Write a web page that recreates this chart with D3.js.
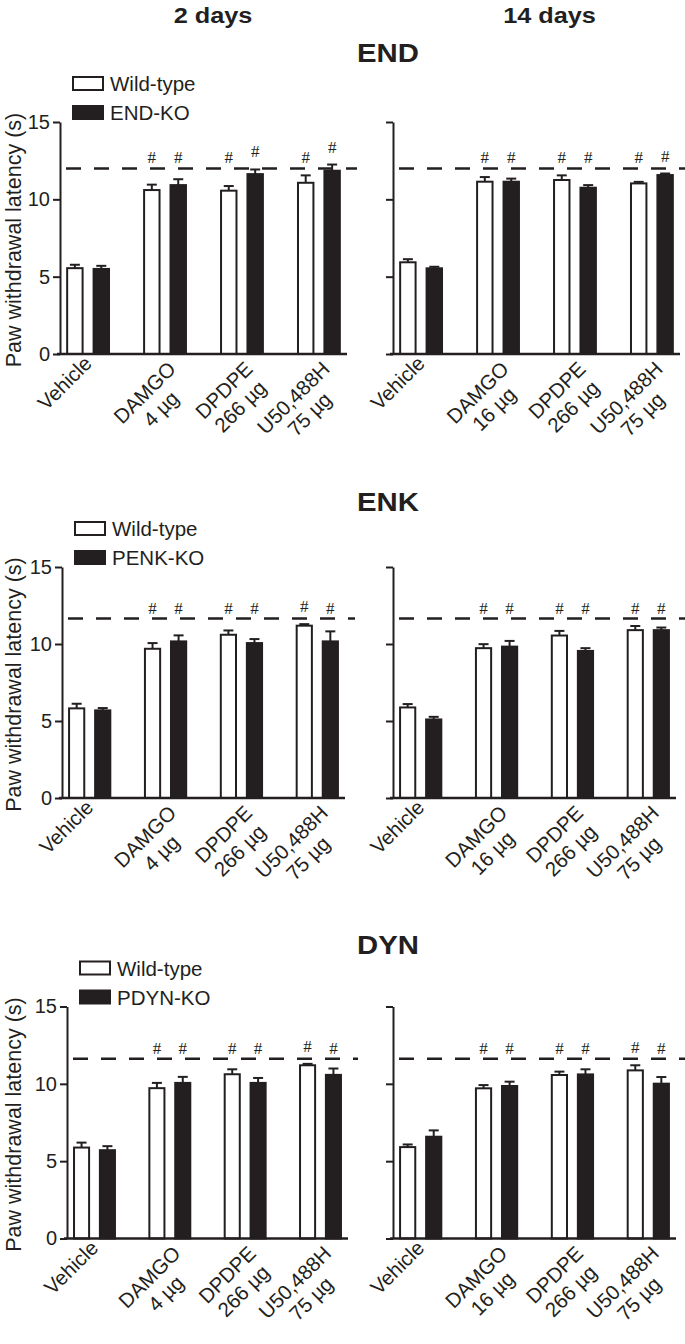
<!DOCTYPE html>
<html>
<head>
<meta charset="utf-8">
<script src="https://cdn.jsdelivr.net/npm/d3@7"></script>
<style>
  body { margin: 0; background: #fff; }
  svg { display: block; font-family: "Liberation Sans", Arial, Helvetica, sans-serif; }
</style>
</head>
<body>
<div id="chart"></div>
<script>
// categories / labels
const drugLabels2d = [['Vehicle'], ['DAMGO', '4 µg'], ['DPDPE', '266 µg'], ['U50,488H', '75 µg']];
const drugLabels14d = [['Vehicle'], ['DAMGO', '16 µg'], ['DPDPE', '266 µg'], ['U50,488H', '75 µg']];
const sigMarks = ['', '#', '#', '#'];
const yTicks = [0, 5, 10, 15];
const dayHeaders = ['2 days', '14 days'];
const rowNames = ['END', 'ENK', 'DYN'];
const koNames = ['END-KO', 'PENK-KO', 'PDYN-KO'];
const cutoffs = [12.0, 11.65, 11.62];

// END, 2 days
const endWt2d = [5.55, 10.6, 10.56, 11.07];
const endWt2dErr = [0.22, 0.35, 0.3, 0.48];
const endKo2d = [5.5, 10.92, 11.63, 11.85];
const endKo2dErr = [0.2, 0.38, 0.3, 0.4];
// END, 14 days
const endWt14d = [5.93, 11.14, 11.25, 11.03];
const endWt14dErr = [0.2, 0.3, 0.3, 0.1];
const endKo14d = [5.54, 11.14, 10.75, 11.57];
const endKo14dErr = [0.1, 0.2, 0.17, 0.1];
// ENK, 2 days
const enkWt2d = [5.82, 9.69, 10.6, 11.19];
const enkWt2dErr = [0.3, 0.37, 0.28, 0.1];
const enkKo2d = [5.69, 10.17, 10.06, 10.17];
const enkKo2dErr = [0.15, 0.39, 0.26, 0.65];
// ENK, 14 days
const enkWt14d = [5.88, 9.73, 10.55, 10.9];
const enkWt14dErr = [0.22, 0.26, 0.3, 0.27];
const enkKo14d = [5.1, 9.83, 9.55, 10.9];
const enkKo14dErr = [0.17, 0.37, 0.18, 0.17];
// DYN, 2 days
const dynWt2d = [5.88, 9.72, 10.62, 11.2];
const dynWt2dErr = [0.32, 0.34, 0.32, 0.09];
const dynKo2d = [5.71, 10.06, 10.06, 10.58];
const dynKo2dErr = [0.26, 0.39, 0.32, 0.41];
// DYN, 14 days
const dynWt14d = [5.91, 9.71, 10.57, 10.87];
const dynWt14dErr = [0.17, 0.21, 0.22, 0.33];
const dynKo14d = [6.58, 9.86, 10.61, 10.01];
const dynKo14dErr = [0.41, 0.28, 0.33, 0.43];

const ink = '#231f20';
const width = 685;
const height = 1344;

// page layout of the three rows (pixels)
const rowLayout = [
  { y0: 354, y15: 122, left: [60, 347], right: [393, 680], titleY: 62 },
  { y0: 798, y15: 567, left: [62, 345], right: [393, 676], titleY: 511 },
  { y0: 1238.5, y15: 1006.5, left: [67, 348], right: [393, 676], titleY: 954 }
];

const svg = d3.select('#chart')
  .append('svg')
  .attr('width', width)
  .attr('height', height);

// column headers
[213, 549.5].forEach((cx, i) => {
  svg.append('text')
    .attr('transform', `translate(${cx},23) scale(1.15,1)`)
    .attr('text-anchor', 'middle')
    .attr('font-size', '22px')
    .attr('font-weight', 'bold')
    .attr('fill', ink)
    .text(dayHeaders[i]);
});

function drawPanel(p) {
  const xGroup = d3.scaleBand()
    .domain(d3.range(p.wt.length))
    .range(p.xRange)
    .paddingInner(0.43)
    .paddingOuter(0.08);

  const xSub = d3.scaleBand()
    .domain(['wt', 'ko'])
    .range([0, xGroup.bandwidth()])
    .paddingInner(0.34);

  const y = d3.scaleLinear()
    .domain([0, 15])
    .range([p.y0, p.y15]);

  const x0 = p.xRange[0];
  const x1 = p.xRange[1];

  // cut-off line
  svg.append('line')
    .attr('x1', x0)
    .attr('x2', Math.min(x1 + 10, width))
    .attr('y1', y(p.cutoff))
    .attr('y2', y(p.cutoff))
    .attr('stroke', ink)
    .attr('stroke-width', 2.5)
    .attr('stroke-dasharray', '15,13')
    .attr('stroke-dashoffset', -6);

  const rows = d3.range(p.wt.length).flatMap(i => [
    { g: i, s: 'wt', v: p.wt[i], e: p.wtErr[i] },
    { g: i, s: 'ko', v: p.ko[i], e: p.koErr[i] }
  ]);
  const cx = d => xGroup(d.g) + xSub(d.s) + xSub.bandwidth() / 2;

  // error bars (upper only)
  svg.selectAll(null)
    .data(rows)
    .enter()
    .append('line')
    .attr('x1', cx)
    .attr('x2', cx)
    .attr('y1', d => y(d.v))
    .attr('y2', d => y(d.v + d.e))
    .attr('stroke', ink)
    .attr('stroke-width', 2);

  svg.selectAll(null)
    .data(rows)
    .enter()
    .append('line')
    .attr('x1', d => cx(d) - 5)
    .attr('x2', d => cx(d) + 5)
    .attr('y1', d => y(d.v + d.e))
    .attr('y2', d => y(d.v + d.e))
    .attr('stroke', ink)
    .attr('stroke-width', 2);

  // bars
  svg.selectAll(null)
    .data(rows)
    .enter()
    .append('rect')
    .attr('x', d => xGroup(d.g) + xSub(d.s) + 1)
    .attr('y', d => y(d.v))
    .attr('width', xSub.bandwidth() - 2)
    .attr('height', d => p.y0 - y(d.v))
    .attr('fill', d => (d.s === 'wt' ? '#fff' : ink))
    .attr('stroke', ink)
    .attr('stroke-width', 2);

  // significance marks
  svg.selectAll(null)
    .data(rows.filter(d => sigMarks[d.g]))
    .enter()
    .append('text')
    .attr('x', cx)
    .attr('y', d => Math.min(y(p.cutoff) - 5, y(d.v + d.e) - 12))
    .attr('text-anchor', 'middle')
    .attr('font-family', '"Liberation Serif", "Times New Roman", serif')
    .attr('font-size', '17px')
    .attr('fill', ink)
    .text(d => sigMarks[d.g]);

  // y axis
  const yAxis = svg.append('g')
    .attr('transform', `translate(${x0},0)`)
    .call(d3.axisLeft(y)
      .tickValues(yTicks)
      .tickSize(7)
      .tickSizeOuter(0)
      .tickPadding(3)
      .tickFormat(p.showY ? d3.format('d') : () => ''));
  yAxis.attr('font-family', null).attr('font-size', '20px');
  yAxis.select('.domain').attr('stroke', ink).attr('stroke-width', 2);
  yAxis.selectAll('.tick line').attr('stroke', ink).attr('stroke-width', 2);
  yAxis.selectAll('.tick text').attr('fill', ink);

  // x baseline
  svg.append('line')
    .attr('x1', x0 - 3)
    .attr('x2', x1)
    .attr('y1', p.y0)
    .attr('y2', p.y0)
    .attr('stroke', ink)
    .attr('stroke-width', 2.5);

  // rotated category labels
  p.labels.forEach((lines, i) => {
    const gx = xGroup(i) + xGroup.bandwidth() / 2;
    const lg = svg.append('g')
      .attr('transform', `translate(${gx},${p.y0}) rotate(-45)`);
    const texts = lines.map(t => lg.append('text')
      .attr('font-size', '20.5px')
      .attr('fill', ink)
      .attr('text-anchor', 'middle')
      .text(t));
    const blockW = d3.max(texts, t => t.node().getComputedTextLength());
    const u = lines.length > 1 ? -3 : -4;
    const v = lines.length > 1 ? 20 : 11;
    texts.forEach((t, j) => {
      t.attr('x', u - blockW / 2).attr('y', v + j * 23);
    });
  });

  if (p.showY) {
    svg.append('text')
      .attr('transform', `translate(21,${(p.y0 + p.y15) / 2 + 2}) rotate(-90)`)
      .attr('text-anchor', 'middle')
      .attr('font-size', '21.5px')
      .attr('fill', ink)
      .text('Paw withdrawal latency (s)');

    // legend
    const lx = x0 + 12;
    const ly = p.y15 - 46;
    const legend = svg.append('g').attr('transform', `translate(${lx},${ly})`);
    [['Wild-type', '#fff'], [p.koName, ink]].forEach((it, k) => {
      legend.append('rect')
        .attr('x', 1)
        .attr('y', k * 29 + 1)
        .attr('width', 30)
        .attr('height', 13)
        .attr('fill', it[1])
        .attr('stroke', ink)
        .attr('stroke-width', 2);
      legend.append('text')
        .attr('x', 38)
        .attr('y', k * 29 + 15)
        .attr('font-size', '20.5px')
        .attr('fill', ink)
        .text(it[0]);
    });
  }
}

const panelData = [
  [[endWt2d, endWt2dErr, endKo2d, endKo2dErr], [endWt14d, endWt14dErr, endKo14d, endKo14dErr]],
  [[enkWt2d, enkWt2dErr, enkKo2d, enkKo2dErr], [enkWt14d, enkWt14dErr, enkKo14d, enkKo14dErr]],
  [[dynWt2d, dynWt2dErr, dynKo2d, dynKo2dErr], [dynWt14d, dynWt14dErr, dynKo14d, dynKo14dErr]]
];

rowLayout.forEach((row, r) => {
  svg.append('text')
    .attr('transform', `translate(357,${row.titleY}) scale(1.15,1)`)
    .attr('font-size', '25.5px')
    .attr('font-weight', 'bold')
    .attr('fill', ink)
    .text(rowNames[r]);

  panelData[r].forEach((d, c) => {
    drawPanel({
      wt: d[0], wtErr: d[1], ko: d[2], koErr: d[3],
      xRange: c === 0 ? row.left : row.right,
      y0: row.y0,
      y15: row.y15,
      cutoff: cutoffs[r],
      labels: c === 0 ? drugLabels2d : drugLabels14d,
      showY: c === 0,
      koName: koNames[r]
    });
  });
});
</script>
</body>
</html>
